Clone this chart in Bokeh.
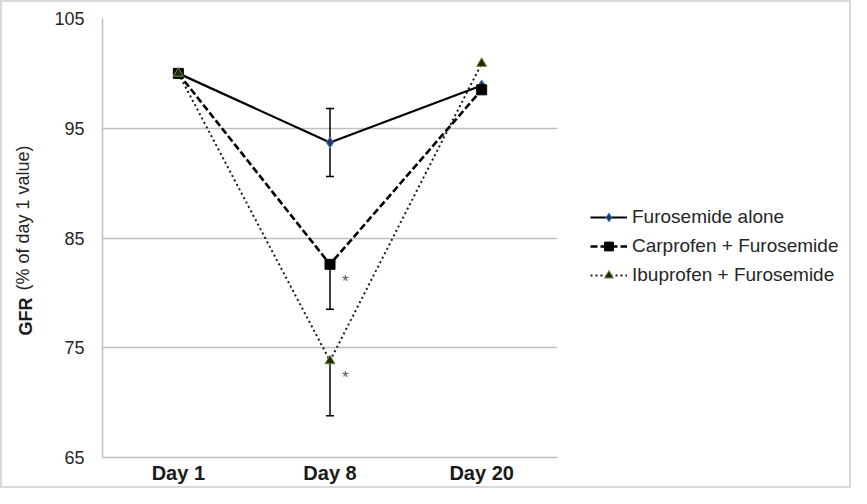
import math
from bokeh.plotting import figure
from bokeh.layouts import row
from bokeh.models import (FactorRange, Range1d, FixedTicker, ColumnDataSource, Whisker,
                          TeeHead, Legend, LegendItem, Label)
from bokeh.core.properties import value
from bokeh.embed import file_html
from bokeh.resources import INLINE

# ---- data ----
days = ["Day 1", "Day 8", "Day 20"]
furosemide_alone = [100.0, 93.7, 98.9]
carprofen_furosemide = [100.0, 82.6, 98.5]
ibuprofen_furosemide = [100.0, 73.8, 100.9]
# error bars (only day 8); carprofen/ibuprofen only show the lower bar
furosemide_err_up = [0.0, 3.1, 0.0]
furosemide_err_down = [0.0, 3.1, 0.0]
carprofen_err_down = [0.0, 4.1, 0.0]
ibuprofen_err_down = [0.0, 5.0, 0.0]
significant_days = ["Day 8", "Day 8"]
significant_values = [carprofen_furosemide[1], ibuprofen_furosemide[1]]
y_ticks = [65, 75, 85, 95, 105]
series_names = ["Furosemide alone", "Carprofen + Furosemide", "Ibuprofen + Furosemide"]

FONT = "Liberation Sans"
GRID = "#bfbfbf"

p = figure(x_range=FactorRange(factors=days, range_padding=0),
           y_range=Range1d(65, 105),
           width=557, height=484,
           min_border_left=100, min_border_right=2,
           min_border_top=16, min_border_bottom=29,
           output_backend="svg", toolbar_location=None)
p.outline_line_color = None
p.background_fill_color = "white"
p.border_fill_color = "white"

# axes
p.xaxis.axis_line_color = GRID
p.xaxis.axis_line_width = 1.5
p.xaxis.major_tick_line_color = None
p.xaxis.minor_tick_line_color = None
p.xaxis.major_tick_out = 0
p.xaxis.major_tick_in = 0
p.xaxis.major_label_text_font = FONT
p.xaxis.major_label_text_font_style = "bold"
p.xaxis.major_label_text_font_size = "20px"
p.xaxis.major_label_text_color = "#1a1a1a"
p.xaxis.major_label_standoff = 4
p.xgrid.grid_line_color = None

p.yaxis.ticker = FixedTicker(ticks=y_ticks)
p.yaxis.axis_line_color = GRID
p.yaxis.axis_line_width = 1.5
p.yaxis.major_tick_line_color = None
p.yaxis.minor_tick_line_color = None
p.yaxis.major_tick_out = 0
p.yaxis.major_tick_in = 0
p.yaxis.major_label_text_font = FONT
p.yaxis.major_label_text_font_size = "18px"
p.yaxis.major_label_text_color = "#262626"
p.yaxis.major_label_standoff = 18
p.ygrid.ticker = FixedTicker(ticks=y_ticks)
p.ygrid.grid_line_color = GRID
p.ygrid.grid_line_width = 1.5

src = ColumnDataSource(dict(
    day=days, furo=furosemide_alone, carp=carprofen_furosemide, ibu=ibuprofen_furosemide,
))

styles = [
    dict(line=dict(line_color="black", line_width=2.2),
         marker=dict(marker="diamond", size=11, fill_color="#1f3864", line_color="#4f81bd", line_width=1)),
    dict(line=dict(line_color="black", line_width=2.6, line_dash="7 3"),
         marker=dict(marker="square", size=10, fill_color="black", line_color="black")),
    dict(line=dict(line_color="#1a1a1a", line_width=2, line_dash="2 3"),
         marker=dict(marker="triangle", size=10, fill_color="#1e2b0a", line_color="#76923c", line_width=1)),
]
cols = ["furo", "carp", "ibu"]

# lines (drawn bottom-up: ibuprofen, carprofen, furosemide)
for i in [2, 1, 0]:
    p.line("day", cols[i], source=src, **styles[i]["line"])

# error bars
err_src = ColumnDataSource(dict(
    day=[d for d, e in zip(days, furosemide_err_up) if e > 0],
    furo=[v for v, e in zip(furosemide_alone, furosemide_err_up) if e > 0],
    furo_hi=[v + e for v, e in zip(furosemide_alone, furosemide_err_up) if e > 0],
    furo_lo=[v - e for v, e in zip(furosemide_alone, furosemide_err_down) if e > 0],
    carp=[v for v, e in zip(carprofen_furosemide, carprofen_err_down) if e > 0],
    carp_lo=[v - e for v, e in zip(carprofen_furosemide, carprofen_err_down) if e > 0],
    ibu=[v for v, e in zip(ibuprofen_furosemide, ibuprofen_err_down) if e > 0],
    ibu_lo=[v - e for v, e in zip(ibuprofen_furosemide, ibuprofen_err_down) if e > 0],
))
for lo, hi, uh in [("furo_lo", "furo_hi", True), ("carp_lo", "carp", False), ("ibu_lo", "ibu", False)]:
    w = Whisker(source=err_src, base="day", lower=lo, upper=hi, dimension="height",
                line_color="black", line_width=1.5,
                lower_head=TeeHead(size=8, line_color="black", line_width=1.5),
                upper_head=TeeHead(size=8, line_color="black", line_width=1.5) if uh else None)
    p.add_layout(w)

# markers
for i in [0, 1, 2]:
    p.scatter("day", cols[i], source=src, **styles[i]["marker"])

# significance asterisks
p.text(x=significant_days, y=significant_values, text=["*", "*"], x_offset=12, y_offset=17,
       text_font=value(FONT), text_font_size="17px", text_color="#595959",
       text_align="left", text_baseline="middle")

# y-axis title in two styles
p.add_layout(Label(x=-6, y=122, x_units="screen", y_units="screen", angle=math.pi / 2,
                   text="GFR", text_font=FONT, text_font_style="bold", text_font_size="18px",
                   text_color="#1a1a1a", text_align="left", text_baseline="middle"), "left")
p.add_layout(Label(x=11, y=167, x_units="screen", y_units="screen", angle=math.pi / 2,
                   text="(% of day 1 value)", text_font=FONT, text_font_size="18px",
                   text_color="#262626", text_align="left", text_baseline="middle"), "left")

# legend panel: a second figure holding (off-screen) legend proxies with the same styles
pl = figure(x_range=Range1d(0, 1), y_range=Range1d(0, 1), width=290, height=484,
            x_axis_type=None, y_axis_type=None,
            min_border=0, output_backend="svg", toolbar_location=None)
pl.grid.grid_line_color = None
pl.outline_line_color = None
pl.background_fill_color = "white"
pl.border_fill_color = "white"
proxy = ColumnDataSource(dict(x=[-5], y=[-5]))
items = []
for i, name in enumerate(series_names):
    lr = pl.line("x", "y", source=proxy, **styles[i]["line"])
    sr = pl.scatter("x", "y", source=proxy, **styles[i]["marker"])
    items.append(LegendItem(label=name, renderers=[lr, sr]))
legend = Legend(items=items, location=(31, 171), glyph_width=37, glyph_height=22, label_height=22,
                spacing=7, padding=0, margin=0, label_standoff=5,
                border_line_color=None, background_fill_alpha=0,
                label_text_font=FONT, label_text_font_size="19px", label_text_color="#262626")
pl.add_layout(legend, "center")

layout = row(p, pl)
layout.styles = {"border": "2px solid #d9d9d9"}

open("out.html", "w").write(file_html(layout, INLINE))
